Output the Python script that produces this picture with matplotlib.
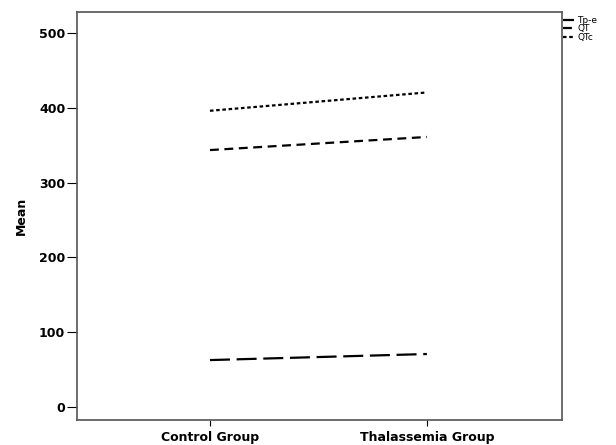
import matplotlib.pyplot as plt

plt.rcParams['font.family'] = ['DejaVu Sans']

groups = ["Control Group", "Thalassemia Group"]
tpe = [62.8, 70.9]
qt = [343.5, 361.0]
qtc = [396.0, 420.5]

fig = plt.figure(figsize=(6.16, 4.45), dpi=100)
ax = fig.add_axes([0.125, 0.056, 0.787, 0.917])

x = range(len(groups))
ax.plot(x, tpe, color="black", lw=1.6, dashes=(9, 3), label="Tp-e")
ax.plot(x, qt, color="black", lw=1.6, dashes=(4, 2.5), label="QT")
ax.plot(x, qtc, color="black", lw=1.6, dashes=(1.6, 1.2), label="QTc")

ax.set_xlim(-0.613, 1.622)
ax.set_ylim(-17.4, 528)
ax.set_xticks(list(x))
ax.set_xticklabels(groups, fontweight="bold", fontsize=9)
ax.set_yticks([0, 100, 200, 300, 400, 500])
ax.tick_params(axis="y", labelsize=9, length=7.5, width=0.8, pad=1)
ax.tick_params(axis="x", length=4, width=0.8, pad=4)
for lbl in ax.get_yticklabels():
    lbl.set_fontweight("bold")
ax.set_ylabel("Mean", fontweight="bold", fontsize=9, labelpad=8)

for s in ax.spines.values():
    s.set_color("#555555")
    s.set_linewidth(1.2)

ax.legend(loc="upper left", bbox_to_anchor=(0.998, 0.995), frameon=False,
          fontsize=6.5, handlelength=1.3, handletextpad=0.3, labelspacing=-0.05,
          borderaxespad=0.1, borderpad=0.1)

fig.savefig("out.png", dpi=100)
